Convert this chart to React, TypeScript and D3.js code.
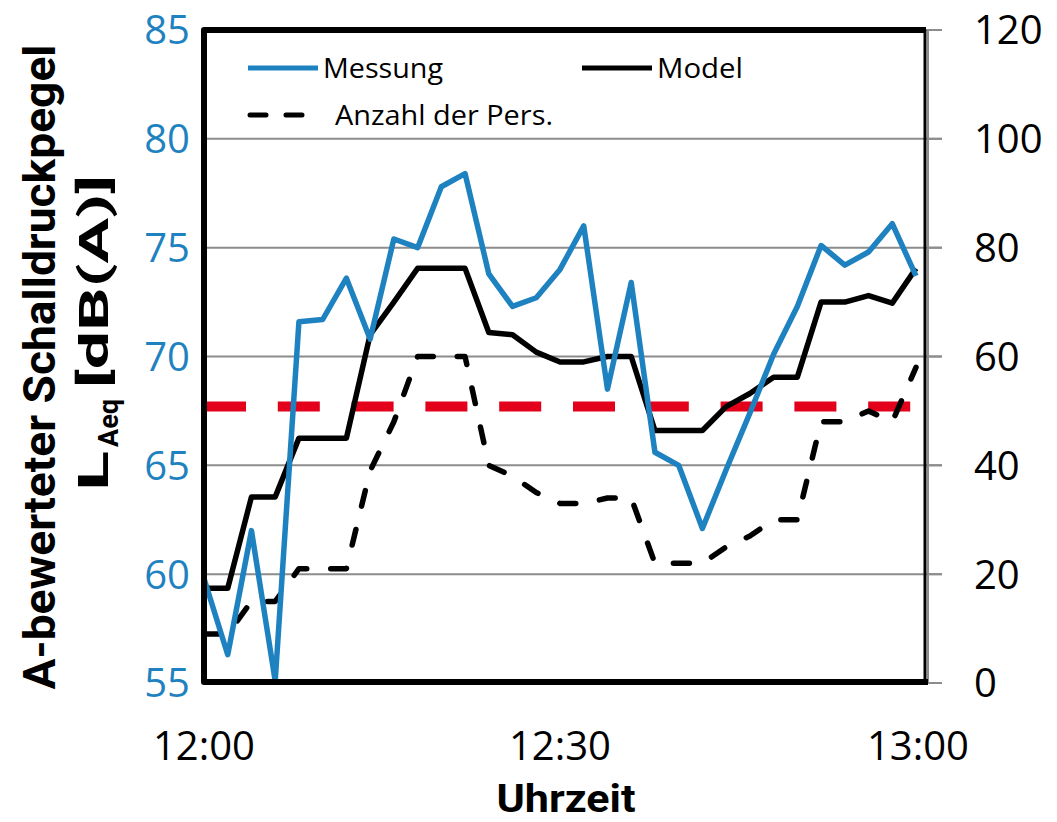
import React from 'react';
import * as d3 from 'd3';

// ---- data ----
const minutes = [0, 2, 4, 6, 8, 10, 12, 14, 16, 18, 20, 22, 24, 26, 28, 30, 32, 34, 36, 38, 40, 42, 44, 46, 48, 50, 52, 54, 56, 58, 60];
const messung = [59.8, 56.3, 62.0, 55.1, 71.6, 71.7, 73.6, 70.8, 75.4, 75.0, 77.8, 78.4, 73.8, 72.3, 72.7, 74.0, 76.0, 68.5, 73.4, 65.6, 65.0, 62.1, 64.8, 67.4, 70.1, 72.3, 75.1, 74.2, 74.8, 76.1, 73.7];
const model = [59.35, 59.35, 63.55, 63.55, 66.25, 66.25, 66.25, 71.0, 72.5, 74.05, 74.05, 74.05, 71.1, 71.0, 70.2, 69.75, 69.75, 70.0, 70.0, 66.6, 66.6, 66.6, 67.7, 68.3, 69.05, 69.05, 72.5, 72.5, 72.8, 72.45, 74.05];
const personen = [9, 9, 15, 15, 21, 21, 21, 39, 48, 60, 60, 60, 40, 38, 35, 33, 33, 34, 34, 22, 22, 22, 25, 27, 30, 30, 48, 48, 50, 48, 58];
const threshold = 67.7;
const leftTicks = [55, 60, 65, 70, 75, 80, 85];
const rightTicks = [0, 20, 40, 60, 80, 100, 120];
const timeTicks = [0, 30, 60];
const timeLabels = ['12:00', '12:30', '13:00'];
const legendLabels = ['Messung', 'Model', 'Anzahl der Pers.'];

const BLUE = '#1F82C0';
const RED = '#E2001A';
const GRID = '#8C8C8C';

export default function App() {
  const left = 204, right = 925, top = 30, bottom = 683;
  const x = d3.scaleLinear().domain([0, 60]).range([left, 916]);
  const yL = d3.scaleLinear().domain([55, 85]).range([bottom, top]);
  const yR = d3.scaleLinear().domain([0, 120]).range([bottom, top]);

  const lineL = d3.line<number>().x((_, i) => x(minutes[i])).y(d => yL(d));
  const lineR = d3.line<number>().x((_, i) => x(minutes[i])).y(d => yR(d));

  const font = '"Open Sans", "Noto Sans", sans-serif';
  const boldFont = '"Liberation Sans Narrow", "Roboto", "Open Sans", sans-serif';

  return (
    <svg width={1057} height={822} style={{ position: 'absolute', left: 0, top: 0, background: '#fff' }}>
      {/* gridlines */}
      {leftTicks.map(t => (
        <line key={'g' + t} x1={left} x2={942} y1={yL(t)} y2={yL(t)} stroke={GRID} strokeWidth={2} />
      ))}
      {/* right axis */}
      <line x1={928} x2={928} y1={top} y2={bottom} stroke={GRID} strokeWidth={2} />
      {rightTicks.map(t => (
        <line key={'rt' + t} x1={928} x2={942} y1={yR(t)} y2={yR(t)} stroke={GRID} strokeWidth={2} />
      ))}
      {/* threshold */}
      <line x1={x(0)} x2={x(60)} y1={yL(threshold)} y2={yL(threshold)} stroke={RED} strokeWidth={10} strokeDasharray="42,31.8" />
      {/* series */}
      <path d={lineR(personen) || ''} fill="none" stroke="#000" strokeWidth={5.5} strokeDasharray="16,24" strokeLinecap="round" strokeLinejoin="round" />
      <path d={lineL(model) || ''} fill="none" stroke="#000" strokeWidth={5.5} strokeLinejoin="round" />
      <path d={lineL(messung) || ''} fill="none" stroke={BLUE} strokeWidth={5.5} strokeLinejoin="round" />
      {/* frame */}
      <path d={`M${right + 1},${top} H${left} V${bottom - 1} H${928}`} fill="none" stroke="#000" strokeWidth={6} strokeLinejoin="round" />
      <line x1={right} x2={right} y1={top} y2={bottom} stroke="#000" strokeWidth={3} />

      {/* left tick labels */}
      {leftTicks.map(t => (
        <text key={'lt' + t} x={190} y={yL(t)} dy="0.36em" textAnchor="end" fill={BLUE} fontSize={40} fontFamily={font}>{t}</text>
      ))}
      {/* right tick labels */}
      {rightTicks.map(t => (
        <text key={'rl' + t} x={974} y={yR(t)} dy="0.36em" textAnchor="start" fill="#000" fontSize={40} fontFamily={font}>{t}</text>
      ))}
      {/* x tick labels */}
      {timeTicks.map((t, i) => (
        <text key={'xt' + t} x={x(t) + (i === 2 ? 2 : 0)} y={760} textAnchor="middle" fill="#000" fontSize={40} fontFamily={font}>{timeLabels[i]}</text>
      ))}
      {/* x title */}
      <text x={566} y={812} textAnchor="middle" fontSize={38} fontWeight="bold" fontFamily={boldFont} textLength={139} lengthAdjust="spacingAndGlyphs">Uhrzeit</text>
      {/* y title */}
      <text transform="translate(55,367) rotate(-90)" textAnchor="middle" fontSize={45} fontWeight="bold" fontFamily={boldFont} textLength={645} lengthAdjust="spacingAndGlyphs">A-bewerteter Schalldruckpegel</text>
      <g transform="translate(108,491) rotate(-90)" fontWeight="bold" fontFamily={boldFont}>
        <text x={0} y={0} fontSize={42} textLength={40} lengthAdjust="spacingAndGlyphs">L</text>
        <text x={44} y={10} fontSize={28} textLength={48} lengthAdjust="spacingAndGlyphs">Aeq</text>
        <text x={103} y={0} fontSize={40} textLength={213} lengthAdjust="spacingAndGlyphs">[dB(A)]</text>
      </g>

      {/* legend */}
      <line x1={248} x2={318} y1={68} y2={68} stroke={BLUE} strokeWidth={5} />
      <text x={323} y={78} fontSize={27} fontFamily={font} textLength={120} lengthAdjust="spacingAndGlyphs">{legendLabels[0]}</text>
      <line x1={582} x2={652} y1={68} y2={68} stroke="#000" strokeWidth={5} />
      <text x={657} y={78} fontSize={27} fontFamily={font} textLength={86} lengthAdjust="spacingAndGlyphs">{legendLabels[1]}</text>
      <line x1={250} x2={320} y1={115} y2={115} stroke="#000" strokeWidth={5} strokeDasharray="16,20" strokeLinecap="round" />
      <text x={335} y={125} fontSize={27} fontFamily={font} textLength={218} lengthAdjust="spacingAndGlyphs">{legendLabels[2]}</text>
    </svg>
  );
}
